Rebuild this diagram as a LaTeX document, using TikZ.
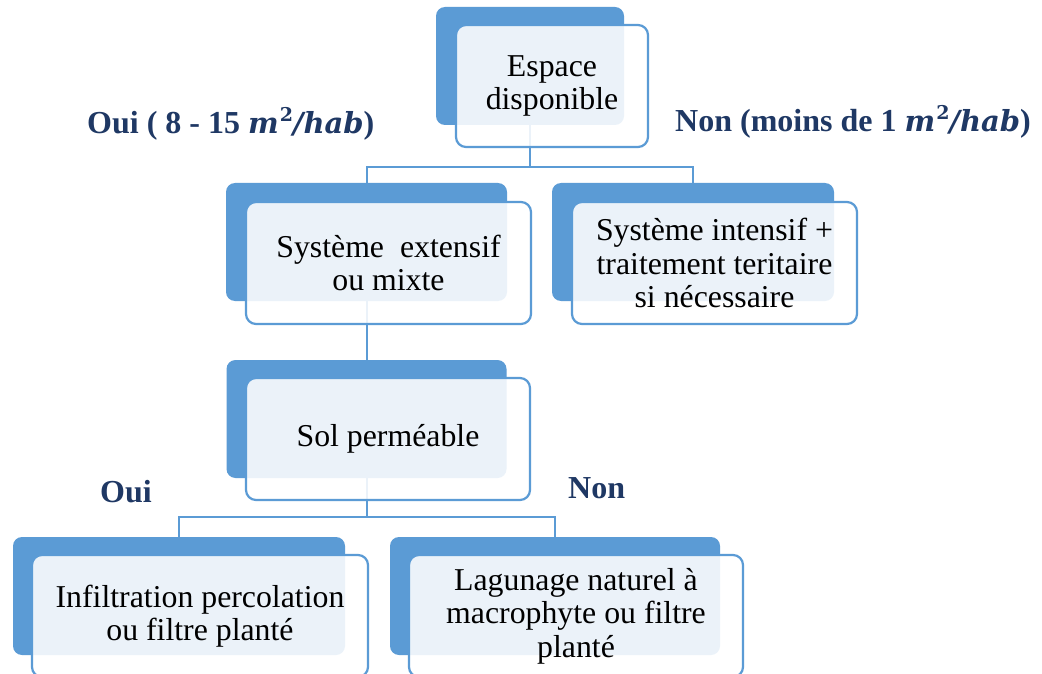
\documentclass[tikz,border=0pt]{standalone}
\usepackage{fontspec}
\setmainfont{Liberation Serif}
\newfontfamily\unitfont{DejaVu Serif}
\definecolor{accent}{HTML}{5B9BD5}
\definecolor{navy}{HTML}{1F3864}
\newcommand\perhab{{\unitfont\fontsize{29}{30}\selectfont\bfseries\itshape m\kern1pt\raisebox{12pt}{\upshape\fontsize{19}{20}\selectfont 2}/hab}}
\tikzset{
  backbox/.style={rectangle, rounded corners=9pt, fill=accent, draw=none,
    minimum height=118pt, inner sep=0pt},
  frontbox/.style={rectangle, rounded corners=10pt, draw=accent, line width=2.2pt,
    fill=white, fill opacity=0.88, text opacity=1, minimum height=122pt,
    inner sep=0pt, align=center, font=\fontsize{31.8}{33.5}\selectfont},
  link/.style={draw=accent, line width=2pt},
  answer/.style={font=\fontsize{32}{33}\selectfont\bfseries, text=navy,
    inner sep=0pt, anchor=base west},
}
\begin{document}
\begin{tikzpicture}[x=1pt,y=-1pt]
\fill[white] (0,0) rectangle (1042,674);
\useasboundingbox (0,0) rectangle (1042,674);

% back panels
\node[backbox, minimum width=188pt] (b1) at (530,66) {};
\node[backbox, minimum width=281pt] (b2) at (366.5,242) {};
\node[backbox, minimum width=282pt] (b3) at (693,242) {};
\node[backbox, minimum width=280pt] (b4) at (366.5,419) {};
\node[backbox, minimum width=332pt] (b5) at (179,596) {};
\node[backbox, minimum width=330pt] (b6) at (555,596) {};

% tree connectors
\draw[link] (b1.south) |- ([yshift=16pt]b2.north) -- (b2.north);
\draw[link] (b1.south) |- ([yshift=16pt]b3.north) -- (b3.north);
\draw[link] (b2.south) -- (b4.north);
\draw[link] (b4.south) |- ([yshift=20pt]b5.north) -- (b5.north);
\draw[link] (b4.south) |- ([yshift=20pt]b6.north) -- (b6.north);

% front panels with text
\node[frontbox, minimum width=192pt] (f1) at (552,86) {Espace\\disponible};
\node[frontbox, minimum width=285pt] (f2) at (388.5,263) {Système\ \ extensif\\ou mixte};
\node[frontbox, minimum width=285pt] (f3) at (714.5,263) {Système intensif +\\traitement teritaire\\si nécessaire};
\node[frontbox, minimum width=284pt] (f4) at (388,439) {Sol perméable};
\node[frontbox, minimum width=336pt] (f5) at (200,616) {Infiltration percolation\\ou filtre planté};
\node[frontbox, minimum width=334pt] (f6) at (576,616) {Lagunage naturel à\\macrophyte ou filtre\\planté};

% branch answers
\node[answer] (yes1) at (87,134) {Oui ( 8 - 15 \perhab)};
\node[answer] (no1) at (675,132) {Non (moins de 1 \perhab)};
\node[answer] (yes2) at (100,502) {Oui};
\node[answer] (no2) at (568,498) {Non};
\end{tikzpicture}
\end{document}
